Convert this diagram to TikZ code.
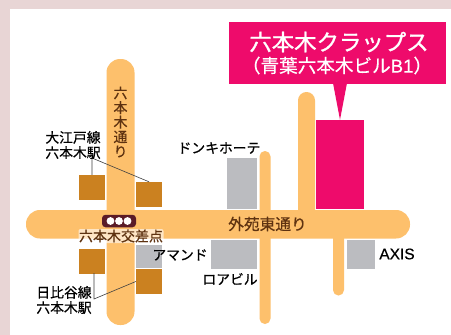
\documentclass[tikz,border=0pt]{standalone}
\usepackage{fontspec}
\setmainfont{Noto Sans CJK JP}
\newfontfamily\latinf{Liberation Sans}
\newfontfamily\medf[RawFeature={embolden=0.6}]{Noto Sans CJK JP}
\newfontfamily\heavyf[RawFeature={embolden=1.2}]{Noto Sans CJK JP}
\newfontfamily\latinmed[RawFeature={embolden=0.6}]{Liberation Sans}
\definecolor{roadc}{HTML}{FDC06C}
\definecolor{bandc}{HTML}{E8D5D5}
\definecolor{pinkc}{HTML}{EE0B6B}
\definecolor{stnc}{HTML}{CB8120}
\definecolor{bldc}{HTML}{BBBCC0}
\definecolor{maroonc}{HTML}{5A1B28}
\definecolor{brownc}{HTML}{5E3210}
\tikzset{
 x=1pt,y=-1pt,
 road/.style={draw=none,fill=roadc,rounded corners=#1},
 stn/.style={fill=stnc},
 bld/.style={fill=bldc},
 lab/.style={font=\medf\fontsize{13.8}{15.2}\selectfont,text=black,inner sep=0pt,align=center},
 leader/.style={draw=black!75,line width=.6pt},
}
\begin{document}
\begin{tikzpicture}
\useasboundingbox (0,0) rectangle (451,335);
\fill[white] (0,0) rectangle (451,335);
\fill[bandc] (0,0) rectangle (451,9);
\fill[bandc] (0,0) rectangle (10,335);
% roads
\fill[road=13.5pt] (106.5,59) rectangle (134.5,325);
\fill[road=13.9pt] (26,210) rectangle (410,238.5);
\fill[road=5.4pt] (259.5,151) rectangle (270.5,324);
\fill[road=8.4pt] (298,92) rectangle (315,225);
\fill[road=5.4pt] (333,225) rectangle (344,295.5);
% stations
\node[stn,minimum width=26pt,minimum height=25pt,inner sep=0pt] (s1) at (92,187.5) {};
\node[stn,minimum width=26pt,minimum height=25pt,inner sep=0pt] (s2) at (149,194.5) {};
\node[stn,minimum width=26pt,minimum height=25pt,inner sep=0pt] (s3) at (92,261) {};
\node[stn,minimum width=26pt,minimum height=25pt,inner sep=0pt] (s4) at (149,281.5) {};
% buildings
\node[bld,minimum width=26pt,minimum height=23pt,inner sep=0pt] (b1) at (149,256) {};
\node[bld,minimum width=30pt,minimum height=51pt,inner sep=0pt] (b2) at (242,183.5) {};
\node[bld,minimum width=46pt,minimum height=29pt,inner sep=0pt] (b3) at (234,254.5) {};
\node[bld,minimum width=28pt,minimum height=29pt,inner sep=0pt] (b4) at (361,254.5) {};
% target
\node[fill=pinkc,minimum width=48pt,minimum height=89pt,inner sep=0pt] (t) at (340,164.5) {};
\fill[pinkc] (333,83) -- (347,83) -- (t.north) -- cycle;
\node[fill=pinkc,minimum width=217pt,minimum height=62pt,inner sep=0pt] (c) at (337.5,53) {};
\node[font=\heavyf\fontsize{22.4}{24}\selectfont,text=white,inner sep=0pt] (c1) at (339,42) {六本木クラップス};
\node[font=\medf\fontsize{18.6}{20}\selectfont,text=white,inner sep=0pt] (c2) at (337,65.5) {（青葉六本木ビル{\latinmed B1}）};
% leaders
\coordinate (u) at (92,158);
\coordinate (l) at (94,299);
\draw[leader] (s1.north) -- (u) -- (s2.north);
\draw[leader] (94,273) -- (l) -- (s4.west);
% traffic light
\node[fill=maroonc,rounded corners=3.5pt,minimum width=34pt,minimum height=12.5pt,inner sep=0pt] (tl) at (119,221) {};
\foreach \cx in {110.5,119,127.5}{\fill[white] (\cx,221) circle (3.9pt);}
% labels
\node[text=brownc,inner sep=0pt,align=center,font=\medf\fontsize{14}{14.6}\selectfont] (r1) at (120.5,122) {六\\本\\木\\通\\り};
\node[text=brownc,inner sep=0pt,font=\medf\fontsize{15.7}{16}\selectfont] (r2) at (267.5,224) {外苑東通り};
\fill[white,opacity=.6,rounded corners=2pt] (78.5,229) rectangle (163.5,243);
\node[font=\medf\fontsize{14}{15}\selectfont,text=brownc,inner sep=0pt] (x) at (121,236) {六本木交差点};
\node[lab] (l1) at (73,145) {大江戸線\\六本木駅};
\node[lab] (l2) at (64,300) {日比谷線\\六本木駅};
\node[lab] (l3) at (219,148) {ドンキホーテ};
\node[lab] (l4) at (180,255) {アマンド};
\node[lab] (l5) at (230,279) {ロアビル};
\node[font=\latinmed\fontsize{15.5}{16}\selectfont,inner sep=0pt] (l6) at (397,254) {AXIS};
\end{tikzpicture}
\end{document}
